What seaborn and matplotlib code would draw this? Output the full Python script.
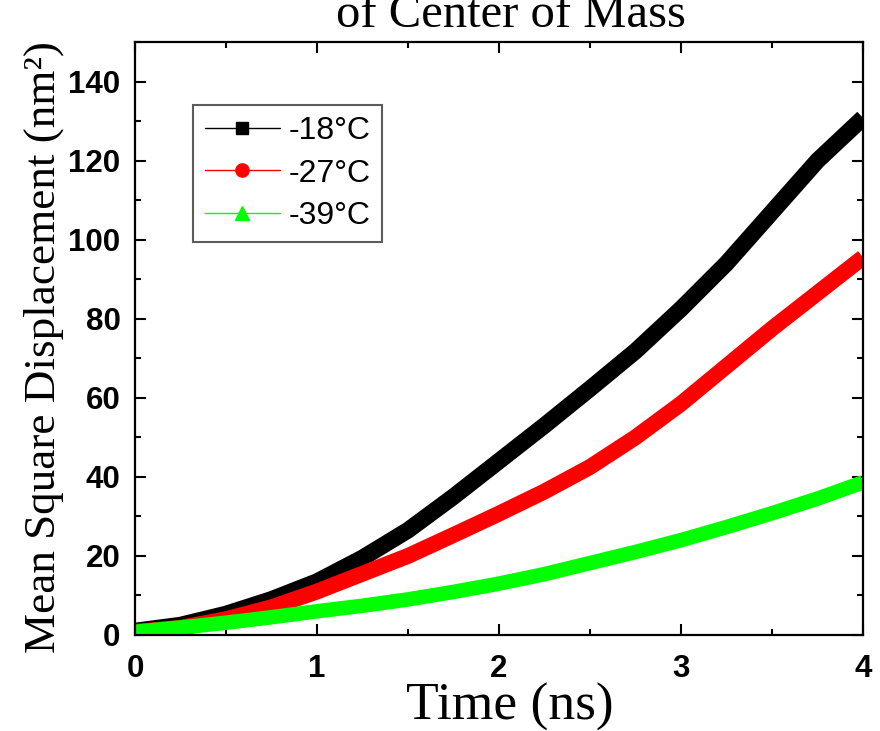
import numpy as np
import pandas as pd
import seaborn as sns
import matplotlib
matplotlib.use("Agg")
import matplotlib.pyplot as plt
from matplotlib.lines import Line2D
from matplotlib.ticker import MultipleLocator

# ---- data ----
time_ns = [0.0, 0.25, 0.5, 0.75, 1.0, 1.25, 1.5, 1.75, 2.0, 2.25, 2.5,
           2.75, 3.0, 3.25, 3.5, 3.75, 4.0]
msd_m18 = [1.0, 2.5, 5.3, 9.0, 13.5, 19.5, 26.5, 35.0, 44.0, 53.0, 62.3,
           71.8, 82.5, 94.0, 107.0, 120.0, 130.8]
msd_m27 = [0.8, 1.8, 4.0, 7.0, 11.0, 15.5, 20.0, 25.3, 30.7, 36.3, 42.5,
           50.0, 58.5, 68.0, 77.5, 86.5, 95.5]
msd_m39 = [0.8, 1.9, 3.1, 4.5, 6.0, 7.4, 9.0, 10.9, 13.0, 15.4, 18.2,
           21.0, 24.0, 27.3, 30.8, 34.5, 38.6]
series_labels = ["-18\u00b0C", "-27\u00b0C", "-39\u00b0C"]
series_colors = ["#000000", "#ff0000", "#00ff00"]
series_markers = ["s", "o", "^"]
series_widths = [12.0, 11.5, 10.5]

x_ticks = [0, 1, 2, 3, 4]
y_ticks = [0, 20, 40, 60, 80, 100, 120, 140]

df = pd.DataFrame({
    "Time": time_ns * 3,
    "MSD": msd_m18 + msd_m27 + msd_m39,
    "Series": [series_labels[0]] * len(time_ns)
              + [series_labels[1]] * len(time_ns)
              + [series_labels[2]] * len(time_ns),
})

sns.set_theme(style="white")
plt.rcParams["font.family"] = ["Liberation Sans", "DejaVu Sans"]

fig = plt.figure(figsize=(8.8, 7.31), dpi=100)
ax = fig.add_axes([135 / 880, 1 - 635 / 731, (863 - 135) / 880, (635 - 42) / 731])

sns.lineplot(data=df, x="Time", y="MSD", hue="Series",
             hue_order=series_labels,
             palette=dict(zip(series_labels, series_colors)),
             linewidth=11, legend=False, ax=ax, sort=False)
for ln, w in zip(ax.lines, series_widths):
    ln.set_linewidth(w)
    ln.set_solid_capstyle("butt")
    ln.set_solid_joinstyle("round")

ax.set_xlim(0, 4)
ax.set_ylim(0, 150)
ax.set_xticks(x_ticks)
ax.set_yticks(y_ticks)
ax.xaxis.set_minor_locator(MultipleLocator(0.5))
ax.yaxis.set_minor_locator(MultipleLocator(10))

for side in ["left", "right", "top", "bottom"]:
    ax.spines[side].set_visible(True)
    ax.spines[side].set_color("black")
    ax.spines[side].set_linewidth(1.6)

ax.tick_params(which="both", direction="in", top=True, right=True,
               bottom=True, left=True, color="black", labelcolor="black")
ax.tick_params(which="major", length=8, width=1.5)
ax.tick_params(which="minor", length=4.3, width=1.5)
ax.tick_params(axis="x", which="major", pad=14)
ax.tick_params(axis="y", which="major", pad=10.5)
for lab in ax.get_xticklabels() + ax.get_yticklabels():
    lab.set_fontweight("bold")
    lab.set_fontsize(22.5)
    lab.set_family(["Liberation Sans", "DejaVu Sans"])

serif = ["Liberation Serif", "DejaVu Serif"]
ax.set_xlabel("Time (ns)", fontsize=38.5, family=serif, labelpad=-1,
              color="black")
ax.xaxis.label.set_x(0.515)
ax.set_ylabel("Mean Square Displacement (nm\u00b2)", fontsize=32.5,
              family=serif, color="black")
ax.yaxis.set_label_coords(-0.0975, 0.485)
ax.set_title("Mean Square Displacement\nof Center of Mass", fontsize=35,
             family=serif, pad=11, color="black")
ax.title.set_x(0.517)

handles = [Line2D([0], [0], color=c, lw=1.0, marker=m, markersize=ms,
                  markerfacecolor=c, markeredgecolor=c)
           for c, m, ms in zip(series_colors, series_markers, [8.5, 9.5, 10.5])]
leg = ax.legend(handles, series_labels, loc="upper left",
                bbox_to_anchor=(0.0797, 0.8938), fontsize=23, frameon=True,
                fancybox=False, handlelength=2.35, handletextpad=0.28,
                borderpad=0.36, labelspacing=0.38, borderaxespad=0)
for t in leg.get_texts():
    t.set_color("black")
leg.get_frame().set_edgecolor("#333333")
leg.get_frame().set_linewidth(1.5)

fig.savefig("out.png", dpi=100)
